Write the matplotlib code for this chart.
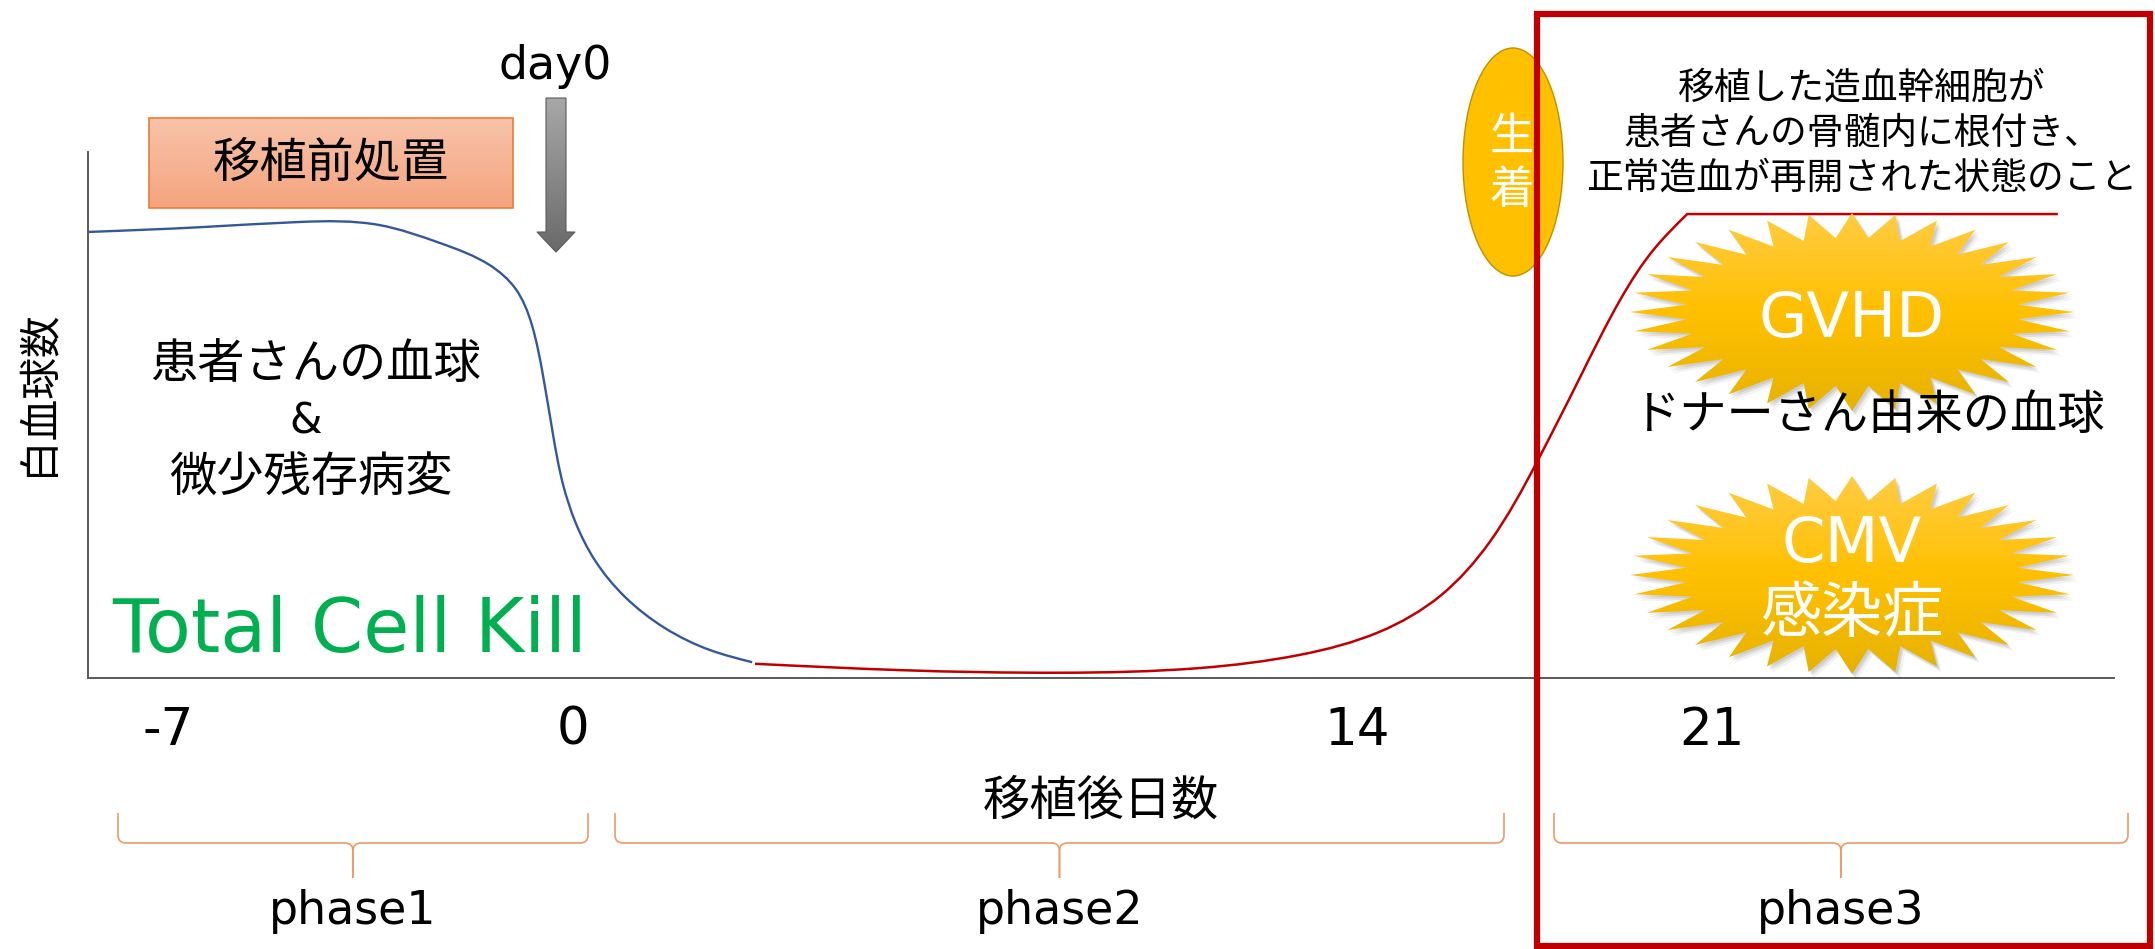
import numpy as np
import matplotlib
matplotlib.use('Agg')
import matplotlib.pyplot as plt
from matplotlib.patches import Rectangle, Ellipse, Polygon, PathPatch
from matplotlib.path import Path
from matplotlib.colors import to_rgb
from matplotlib.transforms import IdentityTransform

JP = ['Noto Sans CJK JP', 'DejaVu Sans']
LAT = ['DejaVu Sans', 'Noto Sans CJK JP']

# white cell count (arbitrary units) vs. days after transplant
pre_days = [-8.38, -6.45, -4.72, -3.34, -2.30, -1.44, -1.00, -0.71, -0.52, -0.35,
            -0.17, 0.04, 0.39, 0.93, 1.64, 2.45, 3.20]
pre_wbc = [84.8, 85.7, 86.7, 86.1, 82.7, 78.5, 74.1, 67.1, 57.6, 46.6,
           36.7, 29.7, 22.4, 15.4, 9.5, 5.3, 3.0]

post_days = [3.25, 5.84, 8.71, 11.20, 12.98, 14.45, 15.64, 16.62, 17.55, 18.40,
             19.19, 19.88, 20.51, 27.82]
post_wbc = [2.7, 1.5, 1.0, 1.9, 4.4, 8.8, 15.6, 25.9, 41.1, 57.2,
            71.9, 81.8, 88.2, 88.2]

tick_days = [-7, 0, 14, 21]
tick_labels = ['-7', '0', '14', '21']
phase_labels = ['phase1', 'phase2', 'phase3']

W, H = 2155, 949
fig = plt.figure(figsize=(W / 100, H / 100), dpi=100)

# schematic time axis: day labels are not evenly spaced
knot_days = np.array([-7.0, 0.0, 14.0, 21.0])
knot_pos = np.array([168.0, 573.0, 1357.0, 1712.0])
s_lo = (knot_pos[1] - knot_pos[0]) / (knot_days[1] - knot_days[0])
s_hi = (knot_pos[-1] - knot_pos[-2]) / (knot_days[-1] - knot_days[-2])


def fwd(d):
    d = np.asarray(d, dtype=float)
    p = np.interp(d, knot_days, knot_pos)
    p = np.where(d < knot_days[0], knot_pos[0] + (d - knot_days[0]) * s_lo, p)
    p = np.where(d > knot_days[-1], knot_pos[-1] + (d - knot_days[-1]) * s_hi, p)
    return p


def inv(p):
    p = np.asarray(p, dtype=float)
    d = np.interp(p, knot_pos, knot_days)
    d = np.where(p < knot_pos[0], knot_days[0] + (p - knot_pos[0]) / s_lo, d)
    d = np.where(p > knot_pos[-1], knot_days[-1] + (p - knot_pos[-1]) / s_hi, d)
    return d


ax = fig.add_axes([88 / W, 1 - 678 / H, (2114 - 88) / W, (678 - 152) / H])
ax.set_xscale('function', functions=(fwd, inv))
ax.set_xlim(float(inv(88)), float(inv(2114)))
ax.set_ylim(0, 100)


def spline_segments(pts):
    # natural cubic spline (chord-length parameter) as bezier segments
    n = len(pts)
    h = np.hypot(*np.diff(pts, axis=0).T)
    A = np.zeros((n, n))
    rhs = np.zeros((n, 2))
    A[0, 0] = A[-1, -1] = 1
    for i in range(1, n - 1):
        A[i, i - 1], A[i, i], A[i, i + 1] = h[i - 1], 2 * (h[i - 1] + h[i]), h[i]
        rhs[i] = 6 * ((pts[i + 1] - pts[i]) / h[i] - (pts[i] - pts[i - 1]) / h[i - 1])
    M = np.linalg.solve(A, rhs)
    verts, codes = [], []
    for i in range(n - 1):
        s = (pts[i + 1] - pts[i]) / h[i]
        d0 = s - h[i] * (2 * M[i] + M[i + 1]) / 6
        d1 = s + h[i] * (M[i] + 2 * M[i + 1]) / 6
        verts += [pts[i] + d0 * h[i] / 3, pts[i + 1] - d1 * h[i] / 3, pts[i + 1]]
        codes += [Path.CURVE4] * 3
    return verts, codes


def smooth_line(xs, ys, color, lw, sharp_end=False):
    pts = ax.transData.transform(np.column_stack([xs, ys]))
    body = pts[:-1] if sharp_end else pts
    verts, codes = spline_segments(body)
    verts, codes = [body[0]] + verts, [Path.MOVETO] + codes
    if sharp_end:
        verts.append(pts[-1])
        codes.append(Path.LINETO)
    ax.add_patch(PathPatch(Path(verts, codes), fc='none', ec=color, lw=lw,
                           transform=IdentityTransform(), capstyle='butt'))


smooth_line(pre_days, pre_wbc, '#34589C', 1.7)
smooth_line(post_days, post_wbc, '#C00000', 1.8, sharp_end=True)

for side in ['top', 'right']:
    ax.spines[side].set_visible(False)
for side in ['left', 'bottom']:
    ax.spines[side].set_color('#595959')
    ax.spines[side].set_linewidth(1.4)
ax.set_yticks([])
ax.set_xticks(tick_days, tick_labels)
ax.xaxis.set_minor_locator(matplotlib.ticker.NullLocator())
ax.tick_params(axis='x', length=0, pad=20, labelsize=37)
for lab in ax.get_xticklabels():
    lab.set_family(LAT)

ax.set_xlabel('移植後日数', fontsize=34, family=JP, va='center')
ax.xaxis.set_label_coords(0.5, -0.234)
ax.set_ylabel('白血球数', fontsize=30, family=JP, va='center')
ax.yaxis.set_label_coords(-0.0247, 0.542)

# drawing layer in pixel units
ov = fig.add_axes([0, 0, 1, 1], facecolor='none')
ov.set_axis_off()


def gradient_fill(patch, bbox, colors, z):
    patch.set_facecolor('none')
    patch.set_zorder(z + 0.1)
    ov.add_patch(patch)
    t = np.linspace(0, 1, 256)
    stops = np.linspace(0, 1, len(colors))
    rgb = np.array([to_rgb(c) for c in colors])
    img = np.stack([np.interp(t, stops, rgb[:, i]) for i in range(3)], axis=-1)[:, None, :]
    x0, x1, ytop, ybot = bbox
    im = ov.imshow(img, extent=(x0, x1, ybot, ytop), origin='upper',
                   aspect='auto', zorder=z, interpolation='bilinear')
    im.set_clip_path(patch)


def star(cx, cy, a, b, n=32, inner=0.75):
    ang = np.pi / 2 + np.arange(2 * n) * np.pi / n
    r = np.where(np.arange(2 * n) % 2 == 0, 1.0, inner)
    return np.column_stack([cx + a * r * np.cos(ang), cy - b * r * np.sin(ang)])


def brace(x0, x1, ytop=813, ymid=843, ytip=878, r=8):
    xc = (x0 + x1) / 2
    M, L, C = Path.MOVETO, Path.LINETO, Path.CURVE3
    for xe, sgn in [(x0, 1), (x1, -1)]:
        verts = [(xe, ytop), (xe, ymid - r), (xe, ymid), (xe + sgn * r, ymid),
                 (xc - sgn * r, ymid), (xc, ymid), (xc, ymid + r), (xc, ytip)]
        codes = [M, L, C, C, L, C, C, L]
        ov.add_patch(PathPatch(Path(verts, codes), fc='none', ec='#EE9A66', lw=1.2, zorder=3))


# pre-transplant conditioning box
gradient_fill(Rectangle((149, 118), 364, 90, ec='#ED7D31', lw=1.2),
              (149, 513, 118, 208), ['#F8C3AA', '#F4A47E'], 2)
ov.text(331, 164, '移植前処置', fontsize=34, family=JP, ha='center', va='center', zorder=4)

# day0 arrow
arrow = Polygon([(546, 98), (566, 98), (566, 232), (575, 232), (556, 252),
                 (537, 232), (546, 232)], closed=True, ec='#5A5A5A', lw=0.8)
gradient_fill(arrow, (537, 575, 98, 252), ['#A8A8A8', '#6A6A6A'], 2)
ov.text(555, 79, 'day0', fontsize=33, family=LAT, ha='center', va='baseline')

ov.text(316, 365, '患者さんの血球', fontsize=34, family=JP, ha='center', va='center')
ov.text(306, 433, '&', fontsize=30, family=LAT, ha='center', va='baseline')
ov.text(311, 478, '微少残存病変', fontsize=34, family=JP, ha='center', va='center')
ov.text(112, 652, 'Total Cell Kill', fontsize=54, family=LAT, color='#00B050',
        ha='left', va='baseline')

# engraftment
ov.add_patch(Ellipse((1513, 162), 100, 228, fc='#FFC000', ec='#BF9000', lw=1.0, zorder=2))
ov.text(1512, 137, '生', fontsize=32, family=JP, color='white', ha='center', va='center', zorder=3)
ov.text(1512, 190, '着', fontsize=32, family=JP, color='white', ha='center', va='center', zorder=3)

note = ['移植した造血幹細胞が', '患者さんの骨髄内に根付き、', '正常造血が再開された状態のこと']
for i, line in enumerate(note):
    ov.text(1862, 88 + 45 * i, line, fontsize=26.5, family=JP, ha='center', va='center')

# complication bursts
for cy in [312, 575]:
    pts = star(1852, cy, 222, 99)
    for dx, dy, al in [(5, 6, 0.05), (3, 4, 0.08), (2, 2, 0.08)]:
        ov.add_patch(Polygon(pts + [dx, dy], closed=True, fc='black', ec='none',
                             alpha=al, zorder=4))
    gradient_fill(Polygon(pts, closed=True, ec='none'), (1630, 2074, cy - 99, cy + 99),
                  ['#FFCC44', '#FFC000', '#E6B200'], 5)
ov.text(1852, 337, 'GVHD', fontsize=45, family=LAT, color='white', ha='center',
        va='baseline', zorder=7)
ov.text(1852, 562, 'CMV', fontsize=45, family=LAT, color='white', ha='center',
        va='baseline', zorder=7)
ov.text(1852, 615, '感染症', fontsize=44, family=JP, color='white', ha='center',
        va='center', zorder=7)
ov.text(1869, 416, 'ドナーさん由来の血球', fontsize=34, family=JP, ha='center',
        va='center', zorder=7)

# phase braces
for (x0, x1), lab in zip([(118, 588), (615, 1504), (1554, 2128)], phase_labels):
    brace(x0, x1)
    ov.text((x0 + x1) / 2, 924, lab, fontsize=33, family=LAT, ha='center', va='baseline')

# phase3 frame
ov.add_patch(Rectangle((1537, 14), 2150 - 1537, 946 - 14, fc='none', ec='#C00000',
                       lw=4.5, zorder=8))

ov.set_xlim(0, W)
ov.set_ylim(H, 0)

fig.savefig('out.png', dpi=100)
